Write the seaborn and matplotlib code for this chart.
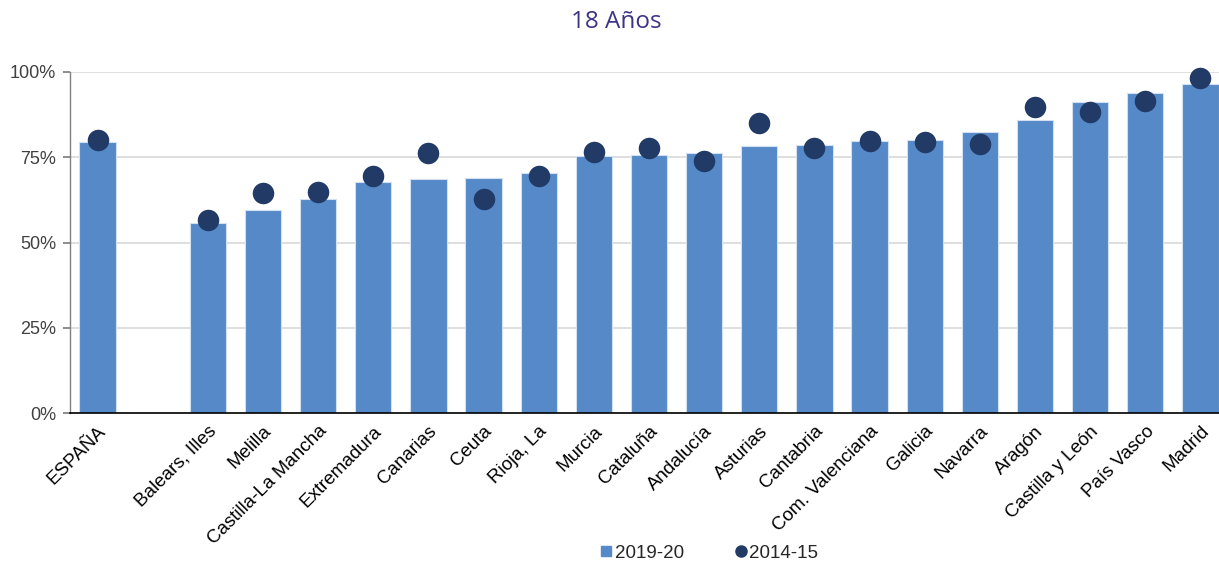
import numpy as np
import pandas as pd
import matplotlib
matplotlib.use("Agg")
import matplotlib.pyplot as plt
import seaborn as sns
from matplotlib.lines import Line2D

categories = ["ESPAÑA", "", "Balears, Illes", "Melilla", "Castilla-La Mancha", "Extremadura",
              "Canarias", "Ceuta", "Rioja, La", "Murcia", "Cataluña", "Andalucía", "Asturias",
              "Cantabria", "Com. Valenciana", "Galicia", "Navarra", "Aragón", "Castilla y León",
              "País Vasco", "Madrid"]
values_2019_20 = [79.6, np.nan, 55.8, 59.5, 62.7, 67.6, 68.5, 68.9, 70.4, 75.4, 75.6, 76.2, 78.4,
                  78.6, 79.7, 80.0, 82.3, 85.8, 91.1, 93.8, 96.5]
values_2014_15 = [80.0, np.nan, 56.5, 64.4, 64.8, 69.4, 76.3, 62.9, 69.5, 76.6, 77.6, 73.9, 85.0,
                  77.8, 79.9, 79.6, 78.8, 89.6, 88.4, 91.6, 98.2]
series_names = ["2019-20", "2014-15"]
title = "18 Años"
y_ticks = [0, 25, 50, 75, 100]

df = pd.DataFrame({"cat": categories,
                   "v1": np.array(values_2019_20) / 100.0,
                   "v2": np.array(values_2014_15) / 100.0})

sns.set_theme(style="white")
plt.rcParams["font.family"] = ["Liberation Sans", "DejaVu Sans"]

bar_color = "#5589C8"
dot_color = "#223A66"

fig = plt.figure(figsize=(12.19, 5.67), dpi=100)
ax = fig.add_axes([70 / 1219, (567 - 413) / 567, (1228 - 70) / 1219, (413 - 72) / 567])

sns.barplot(data=df, x="cat", y="v1", order=categories, color=bar_color, width=0.66,
            edgecolor="#D3E0F1", linewidth=0.8, saturation=1, ax=ax, errorbar=None)
sns.stripplot(data=df, x="cat", y="v2", order=categories, color=dot_color, size=15.5,
              jitter=False, ax=ax, zorder=5, clip_on=False, linewidth=0)

ax.set_xlim(-0.5, len(categories) - 0.5)
ax.set_ylim(0, 1.0)
ax.set_yticks([t / 100 for t in y_ticks])
ax.set_yticklabels([f"{t}%" for t in y_ticks], fontsize=13, color="#404040")
ax.yaxis.grid(True, color="#D9D9D9", linewidth=1.2)
ax.set_axisbelow(True)
ax.tick_params(axis="y", length=5, color="#808080", pad=5, left=True)
ax.tick_params(axis="x", length=0, pad=7)
ax.set_xticks(range(len(categories)))
ax.set_xticklabels(categories, rotation=45, ha="right", rotation_mode="anchor",
                   fontsize=13.5, color="#000000")
ax.set_xlabel("")
ax.set_ylabel("")
for s in ["top", "right"]:
    ax.spines[s].set_visible(False)
ax.spines["left"].set_color("#808080")
ax.spines["left"].set_linewidth(1.0)
ax.spines["bottom"].set_color("#000000")
ax.spines["bottom"].set_linewidth(1.2)

fig.text(616 / 1219, 1 - 22 / 567, title, ha="center", va="center", fontsize=17.5,
         color="#3B3487", family=["Open Sans", "DejaVu Sans"])

handles = [Line2D([], [], marker="s", linestyle="none", color=bar_color, markersize=7.5),
           Line2D([], [], marker="o", linestyle="none", color=dot_color, markersize=8)]
fig.legend(handles, series_names, loc="center", bbox_to_anchor=(708 / 1219, 1 - 553 / 567),
           ncol=2, frameon=False, fontsize=13.5, handletextpad=0.0, columnspacing=2.6,
           handlelength=0.9)

fig.savefig("out.png", dpi=100)
